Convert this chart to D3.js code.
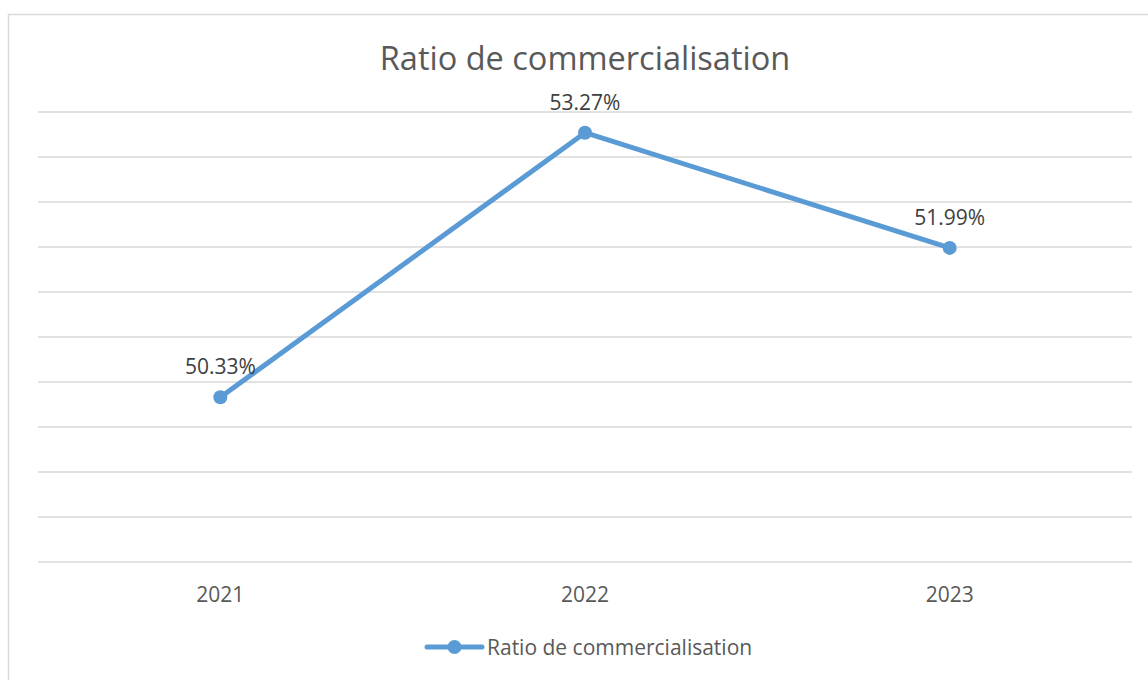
<!DOCTYPE html>
<html>
<head>
<meta charset="utf-8">
<script src="https://cdn.jsdelivr.net/npm/d3@7"></script>
<style>
  html, body { margin: 0; padding: 0; background: #fff; }
  svg text { font-family: "Open Sans", "Noto Sans", sans-serif; fill: #595959; }
</style>
</head>
<body>
<svg id="chart" width="1148" height="680"></svg>
<script>
// Sales ratio by year (percent)
const years = ["2021", "2022", "2023"];
const ratios = [50.33, 53.27, 51.99];
const seriesName = "Ratio de commercialisation";
const chartTitle = "Ratio de commercialisation";
const yMin = 48.5, yMax = 53.5, yStep = 0.5;

const svg = d3.select("#chart");
const W = 1148, H = 680;
const margin = { left: 38, right: 16, top: 112, bottom: 118 };
const color = "#5B9BD5";

// outer chart frame
svg.append("rect")
  .attr("x", 8.5).attr("y", 14.5)
  .attr("width", W + 10).attr("height", H + 10)
  .attr("fill", "#fff").attr("stroke", "#D9D9D9").attr("stroke-width", 1.5);

const x = d3.scaleBand().domain(years).range([margin.left, W - margin.right]);
const y = d3.scaleLinear().domain([yMin, yMax]).range([H - margin.bottom, margin.top]);

// horizontal gridlines
const gridTicks = d3.range(yMin, yMax + yStep / 2, yStep);
svg.append("g").selectAll("line").data(gridTicks).join("line")
  .attr("x1", margin.left).attr("x2", W - margin.right)
  .attr("y1", d => y(d)).attr("y2", d => y(d))
  .attr("stroke", "#D9D9D9").attr("stroke-width", 1.5);

// category axis
const xAxis = svg.append("g")
  .attr("transform", `translate(0,${H - margin.bottom})`)
  .call(d3.axisBottom(x).tickSize(0));
xAxis.select(".domain").remove();
xAxis.selectAll("text")
  .attr("y", 40).attr("dy", null)
  .style("font-size", "21px").attr("fill", "#595959")
  .style("font-family", "'Open Sans', sans-serif");

// title
svg.append("text")
  .attr("x", (margin.left + W - margin.right) / 2).attr("y", 70)
  .attr("text-anchor", "middle").style("font-size", "32.5px")
  .text(chartTitle);

const data = years.map((yr, i) => ({ year: yr, value: ratios[i] }));
const cx = d => x(d.year) + x.bandwidth() / 2;

// series line
svg.append("path").datum(data)
  .attr("fill", "none").attr("stroke", color).attr("stroke-width", 5)
  .attr("stroke-linejoin", "round")
  .attr("d", d3.line().x(cx).y(d => y(d.value)));

// markers
svg.append("g").selectAll("circle").data(data).join("circle")
  .attr("cx", cx).attr("cy", d => y(d.value)).attr("r", 7)
  .attr("fill", color);

// data labels
svg.append("g").selectAll("text").data(data).join("text")
  .attr("x", cx).attr("y", d => y(d.value) - 23)
  .attr("text-anchor", "middle").style("font-size", "21px")
  .style("fill", "#404040")
  .text(d => d.value.toFixed(2) + "%");

// legend
const lg = svg.append("g").attr("transform", "translate(427,647)");
lg.append("line").attr("x1", 0).attr("x2", 55).attr("y1", 0).attr("y2", 0)
  .attr("stroke", color).attr("stroke-width", 5).attr("stroke-linecap", "round");
lg.append("circle").attr("cx", 27.5).attr("cy", 0).attr("r", 7).attr("fill", color);
lg.append("text").attr("x", 60).attr("y", 8).style("font-size", "21px").text(seriesName);
</script>
</body>
</html>
